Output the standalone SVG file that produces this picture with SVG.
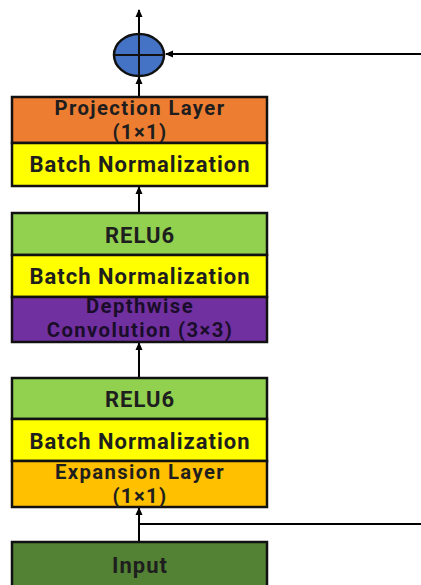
<svg xmlns="http://www.w3.org/2000/svg" width="421" height="585" viewBox="0 0 421 585">
<defs>
<marker id="ah" markerWidth="8" markerHeight="8" refX="7" refY="4" orient="auto" markerUnits="userSpaceOnUse">
<path d="M0,0.5 L8,4 L0,7.5 Z" fill="#000"/>
</marker>
<style>
.box{stroke:#111;stroke-width:2.5}
.t{font-family:Roboto,"Liberation Sans",sans-serif;font-weight:bold;font-size:22px;letter-spacing:1px;fill:#1e1e1e;text-anchor:middle}
.t2{font-size:20.3px;letter-spacing:1.4px}
.d{fill:#1a0d2a}
.c{stroke:#000;stroke-width:2;fill:none}
</style>
</defs>
<rect width="421" height="585" fill="#fff"/>
<g id="connectors">
<line class="c" x1="139" y1="34" x2="139" y2="10" marker-end="url(#ah)"/>
<line class="c" x1="421" y1="54" x2="166" y2="54" marker-end="url(#ah)"/>
<line class="c" x1="139" y1="97" x2="139" y2="77" marker-end="url(#ah)"/>
<line class="c" x1="139" y1="213" x2="139" y2="187" marker-end="url(#ah)"/>
<line class="c" x1="139" y1="378" x2="139" y2="343" marker-end="url(#ah)"/>
<line class="c" x1="139" y1="542" x2="139" y2="508" marker-end="url(#ah)"/>
<line class="c" x1="139" y1="524" x2="421" y2="524"/>
</g>
<g id="add">
<ellipse cx="139" cy="55" rx="25" ry="21" fill="#4472C4" stroke="#111" stroke-width="2.5"/>
<line x1="114" y1="55" x2="164" y2="55" stroke="#111" stroke-width="2"/>
<line x1="139" y1="34" x2="139" y2="76" stroke="#111" stroke-width="2"/>
</g>
<g id="projection">
<rect class="box" x="12" y="97" width="255" height="46" fill="#ED7D31"/>
<text class="t t2" x="140" y="115">Projection Layer</text>
<text class="t t2" x="140" y="139.2">(1×1)</text>
</g>
<g id="bn3">
<rect class="box" x="12" y="143" width="255" height="43" fill="#FFFF00"/>
<text class="t" x="140" y="172">Batch Normalization</text>
</g>
<g id="relu2">
<rect class="box" x="12" y="213" width="255" height="42" fill="#92D050"/>
<text class="t" x="140" y="243">RELU6</text>
</g>
<g id="bn2">
<rect class="box" x="12" y="255" width="255" height="42" fill="#FFFF00"/>
<text class="t" x="140" y="284">Batch Normalization</text>
</g>
<g id="depthwise">
<rect class="box" x="12" y="297" width="255" height="45" fill="#7030A0"/>
<text class="t t2 d" x="140" y="313">Depthwise</text>
<text class="t t2 d" x="140" y="337.2">Convolution (3×3)</text>
</g>
<g id="relu1">
<rect class="box" x="12" y="378" width="255" height="41" fill="#92D050"/>
<text class="t" x="140" y="407">RELU6</text>
</g>
<g id="bn1">
<rect class="box" x="12" y="419" width="255" height="42" fill="#FFFF00"/>
<text class="t" x="140" y="449">Batch Normalization</text>
</g>
<g id="expansion">
<rect class="box" x="12" y="461" width="255" height="46" fill="#FFC000"/>
<text class="t t2" x="140" y="479">Expansion Layer</text>
<text class="t t2" x="140" y="503.2">(1×1)</text>
</g>
<g id="input">
<rect class="box" x="12" y="542" width="255" height="50" fill="#548235"/>
<text class="t" x="140" y="573">Input</text>
</g>
</svg>
